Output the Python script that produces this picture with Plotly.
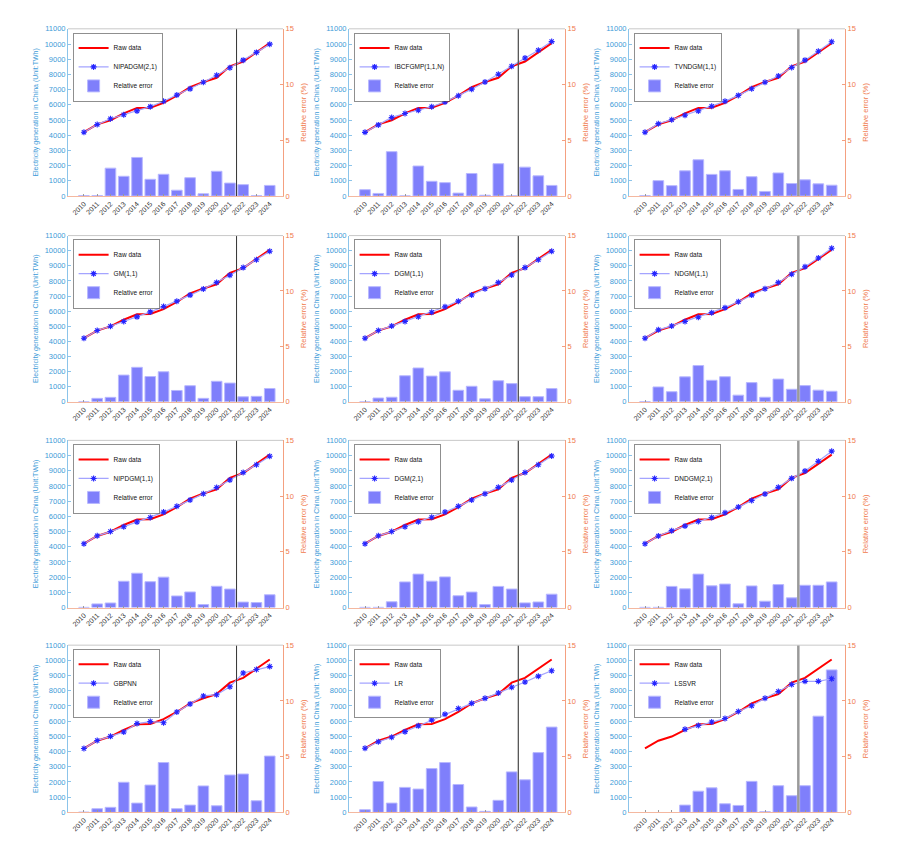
import plotly.graph_objects as go

years = list(range(2010, 2025))
raw_data = [4207, 4713, 4988, 5432, 5795, 5810, 6133, 6604, 7166, 7503, 7779, 8534, 8849, 9456, 10060]

model_names = ["NIPADGM(2,1)", "IBCFGMP(1,1,N)", "TVNDGM(1,1)",
               "GM(1,1)", "DGM(1,1)", "NDGM(1,1)",
               "NIPDGM(1,1)", "DGM(2,1)", "DNDGM(2,1)",
               "GBPNN", "LR", "LSSVR"]

pred_nipadgm21 = [4200, 4700, 5080, 5350, 5600, 5880, 6230, 6640, 7050, 7480, 7950, 8440, 8940, 9450, 9990]
pred_ibcfgmp = [4190, 4680, 5170, 5430, 5640, 5870, 6190, 6590, 7030, 7500, 8010, 8540, 9080, 9590, 10160]
pred_tvndgm = [4200, 4760, 5020, 5310, 5600, 5900, 6230, 6620, 7060, 7480, 7900, 8450, 8940, 9520, 10150]
pred_gm11 = [4200, 4720, 5000, 5310, 5620, 5950, 6300, 6660, 7060, 7470, 7900, 8380, 8880, 9400, 9960]
pred_dgm11 = [4200, 4720, 5010, 5320, 5630, 5930, 6290, 6660, 7070, 7480, 7900, 8390, 8880, 9400, 9960]
pred_ndgm11 = [4200, 4760, 5020, 5310, 5600, 5900, 6230, 6620, 7060, 7480, 7900, 8440, 8940, 9520, 10160]
pred_nipdgm11 = [4200, 4720, 5000, 5320, 5630, 5930, 6280, 6660, 7080, 7490, 7900, 8390, 8880, 9400, 9960]
pred_dgm21 = [4200, 4720, 5000, 5320, 5640, 5940, 6290, 6660, 7080, 7490, 7910, 8390, 8880, 9400, 9970]
pred_dndgm21 = [4200, 4710, 5060, 5360, 5660, 5920, 6240, 6610, 7040, 7470, 7910, 8500, 8990, 9620, 10290]
pred_gbpnn = [4200, 4730, 5000, 5290, 5840, 5970, 5900, 6600, 7130, 7660, 7740, 8260, 9170, 9400, 9590]
pred_lr = [4220, 4640, 4940, 5310, 5690, 6070, 6460, 6830, 7170, 7500, 7850, 8230, 8580, 8960, 9320]
pred_lssvr = [None, None, None, 5460, 5710, 5940, 6170, 6640, 7010, 7510, 7950, 8410, 8620, 8620, 8790]

err_nipadgm21 = [0.03, 0.03, 2.50, 1.77, 3.46, 1.50, 1.95, 0.52, 1.64, 0.20, 2.22, 1.16, 1.02, 0.02, 0.95]
err_ibcfgmp = [0.57, 0.23, 3.98, 0.01, 2.69, 1.32, 1.20, 0.26, 2.02, 0.07, 2.90, 0.01, 2.59, 1.81, 0.95]
err_tvndgm = [0.02, 1.38, 0.93, 2.26, 3.25, 1.94, 2.26, 0.59, 1.73, 0.41, 2.07, 1.12, 1.45, 1.09, 0.97]
err_gm11 = [0.01, 0.31, 0.40, 2.41, 3.11, 2.28, 2.71, 1.02, 1.45, 0.31, 1.85, 1.69, 0.45, 0.49, 1.20]
err_dgm11 = [0.01, 0.34, 0.41, 2.35, 3.05, 2.32, 2.70, 1.04, 1.40, 0.27, 1.90, 1.64, 0.46, 0.46, 1.19]
err_ndgm11 = [0.02, 1.34, 0.91, 2.25, 3.27, 1.94, 2.26, 0.60, 1.73, 0.41, 2.05, 1.13, 1.46, 1.05, 0.95]
err_nipdgm11 = [0.02, 0.33, 0.41, 2.36, 3.08, 2.32, 2.73, 1.04, 1.40, 0.27, 1.91, 1.66, 0.49, 0.45, 1.15]
err_dgm21 = [0.02, 0.02, 0.52, 2.30, 3.00, 2.37, 2.75, 1.06, 1.39, 0.27, 1.90, 1.66, 0.42, 0.50, 1.20]
err_dndgm21 = [0.02, 0.02, 1.90, 1.68, 3.00, 1.95, 2.11, 0.34, 1.94, 0.57, 2.06, 0.87, 2.00, 2.00, 2.30]
err_gbpnn = [0.02, 0.33, 0.45, 2.70, 0.83, 2.45, 4.47, 0.33, 0.65, 2.37, 0.59, 3.35, 3.44, 1.04, 5.05]
err_lr = [0.24, 2.77, 0.83, 2.24, 2.09, 3.93, 4.47, 2.50, 0.48, 0.09, 1.08, 3.63, 2.92, 5.36, 7.65]
err_lssvr = [None, None, None, 0.65, 1.90, 2.20, 0.77, 0.62, 2.78, 0.06, 2.39, 1.49, 2.39, 8.63, 12.78]

preds = [pred_nipadgm21, pred_ibcfgmp, pred_tvndgm, pred_gm11, pred_dgm11, pred_ndgm11,
         pred_nipdgm11, pred_dgm21, pred_dndgm21, pred_gbpnn, pred_lr, pred_lssvr]
errs = [err_nipadgm21, err_ibcfgmp, err_tvndgm, err_gm11, err_dgm11, err_ndgm11,
        err_nipdgm11, err_dgm21, err_dndgm21, err_gbpnn, err_lr, err_lssvr]

left_ticks = list(range(0, 11001, 1000))
right_ticks = [0, 5, 10, 15]
left_titles = ["Electricity generation in China (Unit:TWh)"] * 10 + \
              ["Electricity generation in China (Unit: TWh)"] * 2
split_year = 2021.5

W, H = 908, 842
col_px = [(60, 275), (341, 557), (621, 837)]
row_px = [(17, 186), (226, 394), (433, 602), (640, 809)]

FONT = "Liberation Sans, Arial, sans-serif"
BLUE_AX = "#3d9bd8"
ORANGE_AX = "#f07a4c"
vline_cols = [("#333333", 1.0), ("#555555", 1.3), ("#9a9a9a", 2.5)]


def ax_name(prefix, n):
    return prefix if n == 1 else f"{prefix}{n}"


fig = go.Figure()
layout = dict(
    width=W, height=H, margin=dict(l=0, r=0, t=0, b=0),
    paper_bgcolor="white", plot_bgcolor="white",
    font=dict(family=FONT, size=7, color="#333333"),
    barmode="overlay", showlegend=True,
)
shapes = []

for k in range(12):
    r, c = divmod(k, 3)
    x0p, x1p = col_px[c]
    t, b = row_px[r]
    xd = [x0p / W, x1p / W]
    yd = [1 - b / H, 1 - t / H]
    xn = ax_name("x", k + 1)
    yb = ax_name("y", 2 * k + 1)   # base axis: relative error, right side
    yo = ax_name("y", 2 * k + 2)   # overlay axis: electricity, left side
    lg = ax_name("legend", k + 1)

    fig.add_trace(go.Bar(
        x=years, y=errs[k], xaxis=xn, yaxis=yb, width=0.8,
        name="Relative error", legend=lg, legendrank=3,
        marker=dict(color="#7f7ffb", line=dict(color="#b8b8ff", width=1)),
    ))
    fig.add_trace(go.Scatter(
        x=years, y=raw_data, xaxis=xn, yaxis=yo, mode="lines",
        name="Raw data", legend=lg, legendrank=1,
        line=dict(color="#ff0000", width=2),
    ))
    fig.add_trace(go.Scatter(
        x=years, y=preds[k], xaxis=xn, yaxis=yo, mode="lines+markers",
        name=model_names[k], legend=lg, legendrank=2,
        line=dict(color="#a4a4ff", width=1.2),
        marker=dict(symbol="asterisk-open", size=5, color="#2525ff",
                    line=dict(color="#2525ff", width=1.1)),
    ))

    layout[ax_name("xaxis", k + 1)] = dict(
        domain=xd, anchor=yb, range=[2008.8, 2025.0],
        tickmode="array", tickvals=years, ticktext=[str(y) for y in years],
        tickangle=-45, tickfont=dict(size=7, color="#333333"),
        showline=True, linecolor="#f4b8a0", linewidth=1,
        ticks="inside", ticklen=2, tickcolor="#999999",
        showgrid=False, zeroline=False,
    )
    layout[ax_name("yaxis", 2 * k + 1)] = dict(
        domain=yd, anchor=xn, side="right", range=[0, 15],
        tickmode="array", tickvals=right_ticks, ticktext=[str(v) for v in right_ticks],
        tickfont=dict(size=7.5, color=ORANGE_AX),
        showline=True, linecolor="#f4a080", linewidth=1,
        ticks="inside", ticklen=3, tickcolor="#f4a080",
        showgrid=False, zeroline=False,
        title=dict(text="Relative error (%)", font=dict(size=7.5, color=ORANGE_AX), standoff=7),
    )
    layout[ax_name("yaxis", 2 * k + 2)] = dict(
        overlaying=yb, anchor=xn, side="left", range=[0, 11000],
        tickmode="array", tickvals=left_ticks, ticktext=[str(v) for v in left_ticks],
        tickfont=dict(size=7.5, color=BLUE_AX),
        showline=True, linecolor="#8cc4ea", linewidth=1,
        ticks="inside", ticklen=3, tickcolor="#8cc4ea",
        showgrid=False, zeroline=False,
        title=dict(text=left_titles[k], font=dict(size=7, color=BLUE_AX), standoff=5),
    )
    layout[lg] = dict(
        x=xd[0] + 5 / W, y=yd[1] - 4 / H, xanchor="left", yanchor="top",
        xref="paper", yref="paper",
        bgcolor="white", bordercolor="#444444", borderwidth=0.6,
        font=dict(size=6.5, color="#111111", family=FONT),
        itemwidth=30, tracegroupgap=0, traceorder="normal",
    )
    vc, vw = vline_cols[c]
    shapes.append(dict(type="line", xref=xn, yref=f"{yb} domain",
                       x0=split_year, x1=split_year, y0=0, y1=1,
                       line=dict(color=vc, width=vw)))
    shapes.append(dict(type="line", xref=f"{xn} domain", yref=f"{yb} domain",
                       x0=0, x1=1, y0=1, y1=1,
                       line=dict(color="#c8c8c8", width=1)))

layout["shapes"] = shapes
fig.update_layout(**layout)
fig.write_html("out.html")
